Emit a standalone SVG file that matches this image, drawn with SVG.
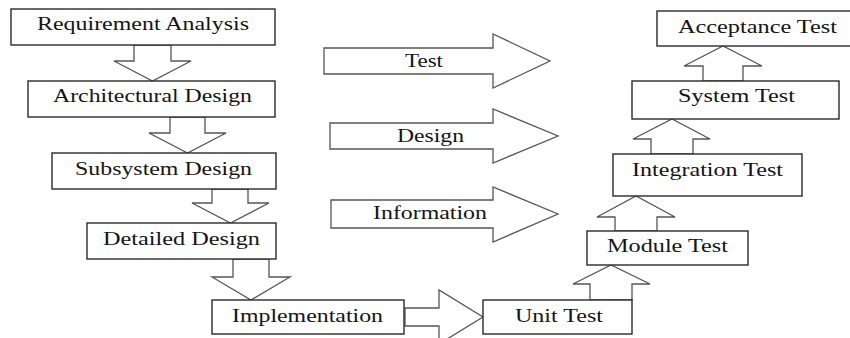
<svg xmlns="http://www.w3.org/2000/svg" width="850" height="338" viewBox="0 0 850 338">
<style>
.box{fill:#fff;stroke:#2a2a2a;stroke-width:1.4}
.arr{fill:#fff;stroke:#555;stroke-width:1.3;stroke-linejoin:miter}
.t{font-family:"Liberation Serif","Times New Roman",serif;font-size:18.5px;fill:#141414;text-anchor:start}
</style>
<rect width="850" height="338" fill="#fff"/>
<g id="connectors">
<polygon class="arr" points="134,45 171,45 171,61 191,61 152.5,81 114,61 134,61"/>
<polygon class="arr" points="170,117 205,117 205,133 226,133 187.5,153 149,133 170,133"/>
<polygon class="arr" points="212,189 248,189 248,203 269,203 230.5,223 192,203 212,203"/>
<polygon class="arr" points="233,259 269,259 269,277 290,277 251,300 212,277 233,277"/>
<polygon class="arr" points="405,308 439,308 439,290 483,317 439,344 439,326 405,326"/>
<polygon class="arr" points="590,300 590,284 573,284 611,265 650,284 632,284 632,300"/>
<polygon class="arr" points="615,231 615,217 597,217 636,196 675,217 657,217 657,231"/>
<polygon class="arr" points="651,154 651,139 633,139 672,119 710,139 693,139 693,154"/>
<polygon class="arr" points="703,81 703,66 684,66 723,46 762,66 743,66 743,81"/>
</g>
<g id="legend-test">
<polygon class="arr" points="324,48 493,48 493,34 550,61 493,88 493,74 324,74"/>
<text class="t" x="405" y="67" textLength="38" lengthAdjust="spacingAndGlyphs">Test</text>
</g>
<g id="legend-design">
<polygon class="arr" points="330,123 493,123 493,109 558,136 493,163 493,149 330,149"/>
<text class="t" x="397" y="142" textLength="67" lengthAdjust="spacingAndGlyphs">Design</text>
</g>
<g id="legend-information">
<polygon class="arr" points="331,200 493,200 493,187 558,214 493,242 493,228 331,228"/>
<text class="t" x="373" y="219" textLength="114" lengthAdjust="spacingAndGlyphs">Information</text>
</g>
<g id="requirement-analysis">
<rect class="box" x="11" y="9" width="264" height="36"/>
<text class="t" x="37" y="30" textLength="212" lengthAdjust="spacingAndGlyphs">Requirement Analysis</text>
</g>
<g id="architectural-design">
<rect class="box" x="28" y="81" width="247" height="36"/>
<text class="t" x="53" y="102" textLength="199" lengthAdjust="spacingAndGlyphs">Architectural Design</text>
</g>
<g id="subsystem-design">
<rect class="box" x="52" y="153" width="224" height="36"/>
<text class="t" x="75" y="175" textLength="177" lengthAdjust="spacingAndGlyphs">Subsystem Design</text>
</g>
<g id="detailed-design">
<rect class="box" x="87" y="223" width="189" height="36"/>
<text class="t" x="103" y="245" textLength="157" lengthAdjust="spacingAndGlyphs">Detailed Design</text>
</g>
<g id="implementation">
<rect class="box" x="212" y="300" width="192" height="34"/>
<text class="t" x="232" y="322" textLength="151" lengthAdjust="spacingAndGlyphs">Implementation</text>
</g>
<g id="unit-test">
<rect class="box" x="483" y="300" width="149" height="34"/>
<text class="t" x="515" y="322" textLength="88" lengthAdjust="spacingAndGlyphs">Unit Test</text>
</g>
<g id="module-test">
<rect class="box" x="587" y="231" width="161" height="34"/>
<text class="t" x="607" y="252" textLength="121" lengthAdjust="spacingAndGlyphs">Module Test</text>
</g>
<g id="integration-test">
<rect class="box" x="613" y="154" width="189" height="42"/>
<text class="t" x="632" y="176" textLength="151" lengthAdjust="spacingAndGlyphs">Integration Test</text>
</g>
<g id="system-test">
<rect class="box" x="632" y="81" width="207" height="38"/>
<text class="t" x="678" y="102" textLength="117" lengthAdjust="spacingAndGlyphs">System Test</text>
</g>
<g id="acceptance-test">
<rect class="box" x="657" y="11" width="203" height="35"/>
<text class="t" x="678" y="33" textLength="159" lengthAdjust="spacingAndGlyphs">Acceptance Test</text>
</g>
</svg>
